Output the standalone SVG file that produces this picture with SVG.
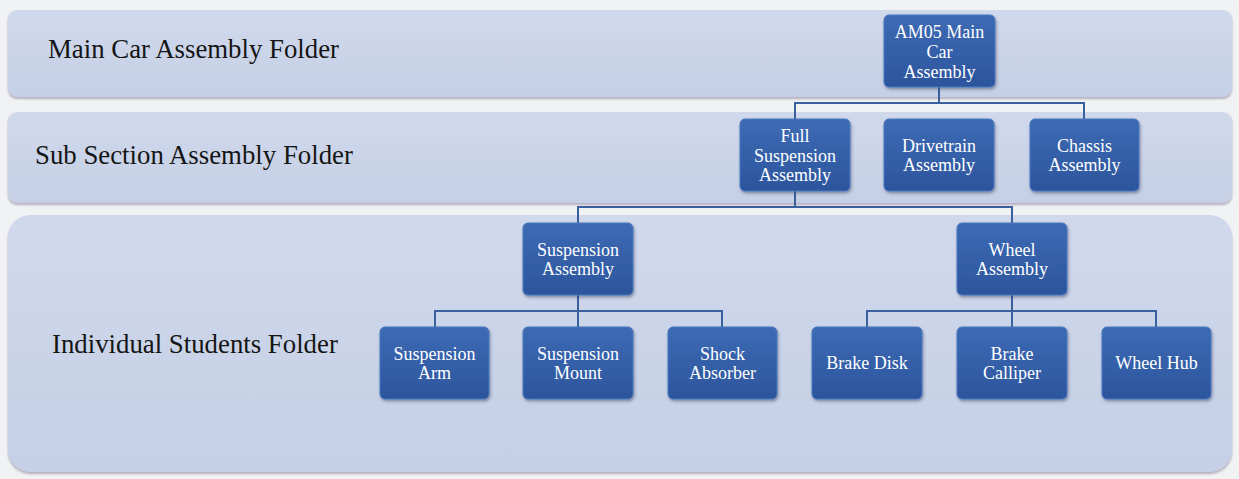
<svg xmlns="http://www.w3.org/2000/svg" width="1239" height="479" viewBox="0 0 1239 479">
<defs>
<linearGradient id="bandGrad" x1="0" y1="0" x2="0" y2="1">
<stop offset="0" stop-color="#d0d9ec"/>
<stop offset="1" stop-color="#c5cfe5"/>
</linearGradient>
<linearGradient id="nodeGrad" x1="0" y1="0" x2="0" y2="1">
<stop offset="0" stop-color="#3d6ab4"/>
<stop offset="1" stop-color="#2c559d"/>
</linearGradient>
<filter id="bandShadow" x="-2%" y="-10%" width="104%" height="125%">
<feDropShadow dx="0" dy="2" stdDeviation="1.2" flood-color="#8a8296" flood-opacity="0.6"/>
</filter>
<filter id="nodeShadow" x="-10%" y="-10%" width="125%" height="130%">
<feDropShadow dx="1" dy="2" stdDeviation="1.5" flood-color="#2a3550" flood-opacity="0.45"/>
</filter>
</defs>
<style>
.band{fill:url(#bandGrad);filter:url(#bandShadow);}
.lbl{font-family:"Liberation Serif","Times New Roman",serif;font-size:26.8px;fill:#151515;}
.node rect{fill:url(#nodeGrad);stroke:#4a78c0;stroke-width:1;filter:url(#nodeShadow);}
.node text{font-family:"Liberation Serif","Times New Roman",serif;font-size:18px;fill:#ffffff;text-anchor:middle;}
.conn{fill:none;stroke:#3a5f9f;stroke-width:2;}
</style>
<rect x="0" y="0" width="1239" height="479" fill="#f1f2f4"/>
<g id="bands">
<rect class="band" x="8" y="10" width="1224" height="87" rx="9"/>
<rect class="band" x="8" y="112" width="1224" height="91" rx="9"/>
<rect class="band" x="8" y="215" width="1224" height="257" rx="22"/>
<text class="lbl" x="48" y="58">Main Car Assembly Folder</text>
<text class="lbl" x="35" y="164">Sub Section Assembly Folder</text>
<text class="lbl" x="52" y="353">Individual Students Folder</text>
</g>
<g id="connectors">
<path class="conn" d="M939,87 V103 M795,119 V103 H1084 V119"/>
<path class="conn" d="M795,191 V207 M578,223 V207 H1012 V223"/>
<path class="conn" d="M578,295 V327 M435,327 V311 H722 V327"/>
<path class="conn" d="M1012,295 V327 M867,327 V311 H1156 V327"/>
</g>
<g id="n-am05" class="node"><rect x="884" y="15" width="111" height="72" rx="5"/>
<text x="939.5" y="38">AM05 Main</text><text x="939.5" y="58">Car</text><text x="939.5" y="78">Assembly</text></g>
<g id="n-fullsusp" class="node"><rect x="740" y="119" width="110" height="72" rx="5"/>
<text x="795" y="142">Full</text><text x="795" y="162">Suspension</text><text x="795" y="181">Assembly</text></g>
<g id="n-drivetrain" class="node"><rect x="884" y="119" width="110" height="72" rx="5"/>
<text x="939" y="152">Drivetrain</text><text x="939" y="171">Assembly</text></g>
<g id="n-chassis" class="node"><rect x="1030" y="119" width="109" height="72" rx="5"/>
<text x="1084.5" y="152">Chassis</text><text x="1084.5" y="171">Assembly</text></g>
<g id="n-suspasm" class="node"><rect x="523" y="223" width="110" height="72" rx="5"/>
<text x="578" y="256">Suspension</text><text x="578" y="275">Assembly</text></g>
<g id="n-wheelasm" class="node"><rect x="957" y="223" width="110" height="72" rx="5"/>
<text x="1012" y="256">Wheel</text><text x="1012" y="275">Assembly</text></g>
<g id="n-susparm" class="node"><rect x="380" y="327" width="109" height="72" rx="5"/>
<text x="434.5" y="360">Suspension</text><text x="434.5" y="379">Arm</text></g>
<g id="n-suspmount" class="node"><rect x="523" y="327" width="110" height="72" rx="5"/>
<text x="578" y="360">Suspension</text><text x="578" y="379">Mount</text></g>
<g id="n-shock" class="node"><rect x="668" y="327" width="109" height="72" rx="5"/>
<text x="722.5" y="360">Shock</text><text x="722.5" y="379">Absorber</text></g>
<g id="n-brakedisk" class="node"><rect x="812" y="327" width="110" height="72" rx="5"/>
<text x="867" y="369">Brake Disk</text></g>
<g id="n-calliper" class="node"><rect x="957" y="327" width="110" height="72" rx="5"/>
<text x="1012" y="360">Brake</text><text x="1012" y="379">Calliper</text></g>
<g id="n-wheelhub" class="node"><rect x="1102" y="327" width="109" height="72" rx="5"/>
<text x="1156.5" y="369">Wheel Hub</text></g>
</svg>
